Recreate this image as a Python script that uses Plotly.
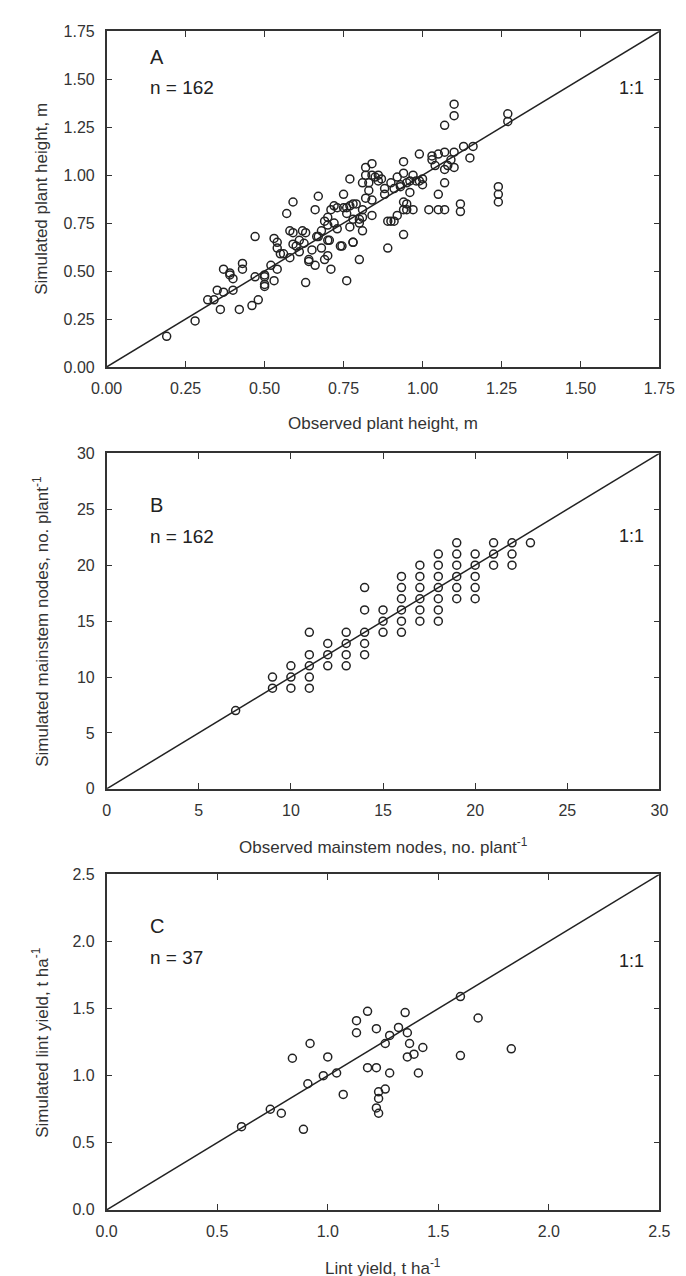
import plotly.graph_objects as go

# panel A - plant height (m)
obs_height = [0.19, 0.28, 0.32, 0.34, 0.36, 0.35, 0.37, 0.37, 0.39, 0.39, 0.40, 0.40, 0.42, 0.43, 0.43,
              0.46, 0.47, 0.47, 0.48, 0.50, 0.50, 0.50, 0.50, 0.52, 0.53, 0.53, 0.54, 0.54, 0.54, 0.55,
              0.56, 0.57, 0.59, 0.58, 0.58, 0.59, 0.59, 0.60, 0.61, 0.61, 0.62, 0.63, 0.64,
              1.10, 1.10, 1.07, 1.27, 1.27, 1.16, 1.13, 1.15, 1.10, 1.10, 1.08, 1.07, 1.05, 1.03, 1.04,
              1.07, 0.99, 1.07, 1.05, 1.12, 1.12, 1.24, 1.24, 1.24, 1.02, 1.05, 1.07, 0.94, 0.97, 0.94,
              0.92, 0.90, 0.91, 0.93, 0.95, 0.98, 1.00, 1.00, 0.88, 0.96, 0.94, 0.95, 0.94, 0.95, 0.97,
              0.92, 0.91, 0.90, 0.89, 0.94, 0.89, 0.84, 0.82, 0.84, 0.86, 0.82, 0.81, 0.83, 0.82, 0.84,
              0.84, 0.81, 0.81, 0.80, 0.81, 0.80, 0.78, 0.77, 0.75, 0.77, 0.75, 0.78, 0.77, 0.78, 0.74,
              0.76, 0.73, 0.72, 0.73, 0.71, 0.70, 0.69, 0.70, 0.67, 0.66, 0.67, 0.68, 0.70, 0.70, 0.69,
              0.71, 0.66, 0.63, 0.625, 0.65, 0.64, 0.705, 0.665, 0.79, 0.80, 0.745, 0.78, 0.76, 0.72,
              0.85, 0.87, 0.83, 0.96, 0.99, 0.93, 0.88, 1.09, 1.03, 0.86, 0.76, 0.68]
sim_height = [0.16, 0.24, 0.35, 0.35, 0.30, 0.40, 0.39, 0.51, 0.49, 0.48, 0.46, 0.40, 0.30, 0.54, 0.51,
              0.32, 0.68, 0.47, 0.35, 0.48, 0.43, 0.42, 0.47, 0.53, 0.45, 0.67, 0.65, 0.51, 0.62, 0.59,
              0.59, 0.80, 0.86, 0.71, 0.57, 0.64, 0.70, 0.63, 0.60, 0.66, 0.71, 0.44, 0.55,
              1.37, 1.31, 1.26, 1.32, 1.28, 1.15, 1.15, 1.09, 1.12, 1.04, 1.05, 1.12, 1.11, 1.10, 1.05,
              1.03, 1.11, 0.96, 0.90, 0.85, 0.81, 0.94, 0.90, 0.86, 0.82, 0.82, 0.82, 1.07, 1.00, 1.01,
              0.99, 0.96, 0.93, 0.94, 0.96, 0.97, 0.98, 0.95, 0.90, 0.91, 0.86, 0.85, 0.82, 0.82, 0.82,
              0.79, 0.76, 0.76, 0.76, 0.69, 0.62, 1.06, 1.04, 1.00, 1.00, 1.00, 0.96, 0.92, 0.88, 0.87,
              0.79, 0.82, 0.78, 0.75, 0.71, 0.56, 0.85, 0.98, 0.90, 0.84, 0.83, 0.77, 0.73, 0.65, 0.63,
              0.45, 0.83, 0.75, 0.72, 0.82, 0.78, 0.76, 0.74, 0.89, 0.82, 0.68, 0.71, 0.66, 0.58, 0.56,
              0.51, 0.53, 0.70, 0.645, 0.61, 0.56, 0.66, 0.68, 0.85, 0.77, 0.63, 0.65, 0.83, 0.84,
              0.99, 0.98, 0.96, 0.97, 0.97, 0.95, 0.93, 1.08, 1.08, 0.97, 0.80, 0.62]

# panel B - mainstem nodes (no. plant-1)
obs_nodes = [7, 9, 9, 10, 10, 10, 11, 11, 11, 11, 11, 12, 12, 12, 13, 13, 13, 13,
             14, 14, 14, 14, 14, 15, 15, 15, 16, 16, 16, 16, 16, 16, 17, 17, 17, 17, 17, 17,
             18, 18, 18, 18, 18, 18, 18, 19, 19, 19, 19, 19, 19, 20, 20, 20, 20, 20,
             21, 21, 21, 22, 22, 22, 23]
sim_nodes = [7, 10, 9, 11, 10, 9, 14, 12, 11, 10, 9, 13, 12, 11, 14, 13, 12, 11,
             18, 16, 14, 13, 12, 16, 15, 14, 19, 18, 17, 16, 15, 14, 20, 19, 18, 17, 16, 15,
             21, 20, 19, 18, 17, 16, 15, 22, 21, 20, 19, 18, 17, 21, 20, 19, 18, 17,
             22, 21, 20, 22, 21, 20, 22]

# panel C - lint yield (t ha-1)
obs_yield = [0.61, 0.74, 0.79, 0.84, 0.89, 0.91, 0.92, 0.98, 1.00, 1.04, 1.07, 1.13, 1.13, 1.18,
             1.22, 1.18, 1.22, 1.23, 1.23, 1.22, 1.23, 1.26, 1.60, 1.68, 1.60, 1.83, 1.35, 1.32,
             1.36, 1.28, 1.37, 1.43, 1.39, 1.36, 1.41, 1.28, 1.26]
sim_yield = [0.62, 0.75, 0.72, 1.13, 0.60, 0.94, 1.24, 1.00, 1.14, 1.02, 0.86, 1.41, 1.32, 1.48,
             1.35, 1.06, 1.06, 0.88, 0.83, 0.76, 0.72, 1.24, 1.59, 1.43, 1.15, 1.20, 1.47, 1.36,
             1.32, 1.30, 1.24, 1.21, 1.16, 1.14, 1.02, 1.02, 0.90]

panels = [
    ("A", "n = 162", obs_height, sim_height, 1.75, 0.25, ".2f",
     "Observed plant height, m", "Simulated plant height, m"),
    ("B", "n = 162", obs_nodes, sim_nodes, 30, 5, "d",
     "Observed mainstem nodes, no. plant<sup>-1</sup>", "Simulated mainstem nodes, no. plant<sup>-1</sup>"),
    ("C", "n = 37", obs_yield, sim_yield, 2.5, 0.5, ".1f",
     "Lint yield, t ha<sup>-1</sup>", "Simulated lint yield, t ha<sup>-1</sup>"),
]

W, H = 686, 1276
x_dom = [86.7 / W, 666.5 / W]
# top / bottom pixel edges of each plot area
edges = [(15.5, 355.7), (443.3, 783.3), (870, 1210)]
# pixel offsets below the top edge for the letter, the n label and the 1:1 label
label_off = [(26, 57, 57), (52, 84, 84), (52, 84, 88)]

fig = go.Figure()
font = "Liberation Sans, Arial, sans-serif"
axcol = "#333333"

for i, (tag, ntxt, xs, ys, vmax, step, fmt, xt, yt) in enumerate(panels):
    k = "" if i == 0 else str(i + 1)
    xa, ya = "x" + k, "y" + k
    top, bot = edges[i]
    ph = bot - top
    fig.add_trace(go.Scatter(x=[0, vmax], y=[0, vmax], mode="lines",
                             line=dict(color="#222222", width=1.5),
                             xaxis=xa, yaxis=ya, showlegend=False, hoverinfo="skip"))
    fig.add_trace(go.Scatter(x=xs, y=ys, mode="markers",
                             marker=dict(symbol="circle-open", size=8, color="#222222",
                                         line=dict(width=1.5)),
                             xaxis=xa, yaxis=ya, showlegend=False))
    common = dict(range=[0, vmax], dtick=step, tick0=0, tickformat=fmt,
                  showgrid=False, zeroline=False, showline=True, linecolor=axcol, linewidth=1.5,
                  mirror="allticks", ticks="inside", ticklen=6, tickwidth=1.2, tickcolor=axcol,
                  tickfont=dict(family=font, size=16, color="#333333"))
    fig.layout["xaxis" + k] = dict(common, domain=x_dom, anchor=ya, ticklabelstandoff=6)
    fig.layout["yaxis" + k] = dict(common, domain=[1 - bot / H, 1 - top / H], anchor=xa,
                                   ticklabelstandoff=7)

    o1, o2, o3 = label_off[i]
    fig.add_annotation(x=0.075, y=1 - o1 / ph, xref=xa + " domain", yref=ya + " domain",
                       text=tag, showarrow=False, xanchor="left", yanchor="middle",
                       font=dict(family=font, size=20, color="#222222"))
    fig.add_annotation(x=0.075, y=1 - o2 / ph, xref=xa + " domain", yref=ya + " domain",
                       text=ntxt, showarrow=False, xanchor="left", yanchor="middle",
                       font=dict(family=font, size=19, color="#222222"))
    fig.add_annotation(x=0.975, y=1 - o3 / ph, xref=xa + " domain", yref=ya + " domain",
                       text="1:1", showarrow=False, xanchor="right", yanchor="middle",
                       font=dict(family=font, size=18, color="#222222"))
    fig.add_annotation(x=0.5, y=0, xref=xa + " domain", yref=ya + " domain", yshift=-57,
                       text=xt, showarrow=False, xanchor="center", yanchor="middle",
                       font=dict(family=font, size=17, color="#333333"))
    fig.add_annotation(x=0, y=0.5, xref=xa + " domain", yref=ya + " domain", xshift=-66,
                       text=yt, showarrow=False, textangle=-90, xanchor="center", yanchor="middle",
                       font=dict(family=font, size=17, color="#333333"))

fig.update_layout(width=W, height=H, margin=dict(l=0, r=0, t=0, b=0),
                  plot_bgcolor="white", paper_bgcolor="white")

fig.write_html("out.html")
